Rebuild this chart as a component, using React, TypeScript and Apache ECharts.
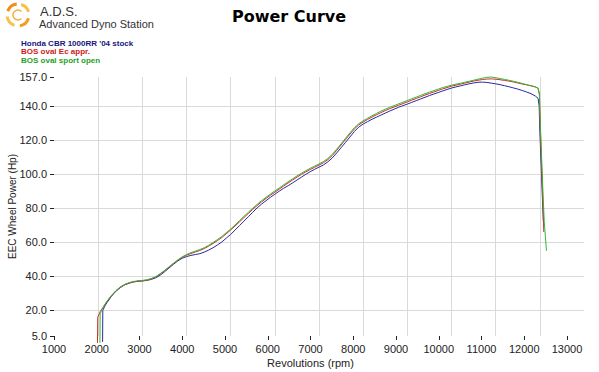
import React, { useEffect, useRef } from "react";
import * as echarts from "echarts";

const chartTitle = "Power Curve";
const brandTitle = "A.D.S.";
const brandSubtitle = "Advanced Dyno Station";
const seriesNames = ["Honda CBR 1000RR '04 stock", "BOS oval Ec appr.", "BOS oval sport open"];
const lineColors = ["#2a2aa0", "#d42a2a", "#33b833"];
const legendColors = ["#16167e", "#d01818", "#1f9f1f"];
const xName = "Revolutions (rpm)";
const yName = "EEC Wheel Power (Hp)";
const yTickValues = [5, 20, 40, 60, 80, 100, 120, 140, 157];
const yGridValues = [20, 40, 60, 80, 100, 120, 140];

const stock: number[][] = [
  [2100, 1.5], [2105, 20], [2150, 22.5], [2200, 24.6], [2300, 28.3], [2400, 31.2], [2500, 33.4],
  [2600, 35], [2700, 36], [2800, 36.7], [2900, 37.1], [3000, 37.3], [3100, 37.6], [3200, 38.2],
  [3300, 39.1], [3400, 40.6], [3500, 42.6], [3600, 44.8], [3700, 47], [3800, 49], [3900, 50.6],
  [4000, 51.6], [4100, 52.3], [4200, 52.8], [4300, 53.3], [4400, 54.2], [4500, 55.4], [4600, 56.8],
  [4700, 58.4], [4800, 60.2], [4900, 62.4], [5000, 64.6], [5100, 67.2], [5200, 69.8], [5300, 72.4],
  [5400, 75], [5500, 77.6], [5600, 80.2], [5700, 82.4], [5800, 84.4], [5900, 86.4], [6000, 88.2],
  [6100, 90], [6200, 91.7], [6300, 93.2], [6400, 94.8], [6500, 96.5], [6600, 98.2], [6700, 99.9],
  [6800, 101.4], [6900, 102.8], [7000, 104.1], [7100, 105.4], [7200, 107.2], [7300, 109.5],
  [7400, 112.4], [7500, 115.5], [7600, 118.6], [7700, 121.8], [7800, 125], [7900, 127.6],
  [8000, 129.4], [8100, 130.8], [8200, 132.2], [8300, 133.4], [8400, 134.6], [8500, 135.8],
  [8600, 137], [8700, 138.1], [8800, 139.2], [8900, 140.2], [9000, 141.1], [9100, 142.1],
  [9200, 143.1], [9300, 144.1], [9400, 145.1], [9500, 146.1], [9600, 147], [9700, 147.9],
  [9800, 148.8], [9900, 149.7], [10000, 150.5], [10100, 151.2], [10200, 151.8], [10300, 152.4],
  [10400, 153], [10500, 153.5], [10600, 153.9], [10700, 154], [10800, 153.8], [10900, 153.4],
  [11000, 153], [11100, 152.5], [11200, 151.9], [11300, 151.3], [11400, 150.6], [11500, 149.9],
  [11600, 149.1], [11700, 148.2], [11800, 147.2], [11900, 145.8], [11960, 144.5], [11985, 140],
  [12000, 125], [12030, 105], [12060, 85], [12080, 72],
];

const ecAppr: number[][] = [
  [1985, 1], [1990, 16], [2050, 19.5], [2100, 21.3], [2200, 25.3], [2300, 28.6], [2400, 31.4],
  [2500, 33.6], [2600, 35.1], [2700, 36.1], [2800, 36.8], [2900, 37.2], [3000, 37.4], [3100, 37.8],
  [3200, 38.5], [3300, 39.6], [3400, 41.3], [3500, 43.2], [3600, 45.3], [3700, 47.4], [3800, 49.4],
  [3900, 51.1], [4000, 52.4], [4100, 53.4], [4200, 54.3], [4300, 55.2], [4400, 56.3], [4500, 57.7],
  [4600, 59.3], [4700, 61], [4800, 62.8], [4900, 65], [5000, 67.2], [5100, 69.6], [5200, 72],
  [5300, 74.5], [5400, 76.9], [5500, 79.3], [5600, 81.6], [5700, 83.7], [5800, 85.7], [5900, 87.6],
  [6000, 89.4], [6100, 91.2], [6200, 93], [6300, 94.8], [6400, 96.5], [6500, 98.2], [6600, 99.8],
  [6700, 101.3], [6800, 102.7], [6900, 104], [7000, 105.3], [7100, 106.7], [7200, 108.5],
  [7300, 110.9], [7400, 113.9], [7500, 117.1], [7600, 120.3], [7700, 123.5], [7800, 126.5],
  [7900, 128.9], [8000, 130.6], [8100, 132.1], [8200, 133.5], [8300, 134.8], [8400, 136.1],
  [8500, 137.3], [8600, 138.4], [8700, 139.4], [8800, 140.4], [8900, 141.4], [9000, 142.4],
  [9100, 143.4], [9200, 144.4], [9300, 145.4], [9400, 146.4], [9500, 147.3], [9600, 148.2],
  [9700, 149.1], [9800, 150], [9900, 150.8], [10000, 151.6], [10100, 152.2], [10200, 152.8],
  [10300, 153.4], [10400, 154], [10500, 154.6], [10600, 155.1], [10700, 155.5], [10800, 155.8],
  [10900, 155.9], [11000, 155.7], [11100, 155.4], [11200, 155], [11300, 154.6], [11400, 154.1],
  [11500, 153.5], [11600, 152.9], [11700, 152.4], [11800, 151.9], [11900, 151.2], [11960, 150.4],
  [11990, 147], [12010, 128], [12040, 105], [12070, 82], [12090, 66],
];

const sportOpen: number[][] = [
  [2040, 1], [2045, 18], [2100, 21.5], [2200, 25.5], [2300, 28.8], [2400, 31.6], [2500, 33.8],
  [2600, 35.3], [2700, 36.3], [2800, 37], [2900, 37.4], [3000, 37.6], [3100, 38], [3200, 38.7],
  [3300, 39.8], [3400, 41.5], [3500, 43.4], [3600, 45.5], [3700, 47.6], [3800, 49.6], [3900, 51.4],
  [4000, 52.8], [4100, 53.9], [4200, 54.8], [4300, 55.7], [4400, 56.8], [4500, 58.2], [4600, 59.8],
  [4700, 61.6], [4800, 63.4], [4900, 65.6], [5000, 67.8], [5100, 70.2], [5200, 72.7], [5300, 75.2],
  [5400, 77.6], [5500, 80], [5600, 82.3], [5700, 84.4], [5800, 86.4], [5900, 88.3], [6000, 90.1],
  [6100, 91.9], [6200, 93.7], [6300, 95.5], [6400, 97.2], [6500, 98.9], [6600, 100.5], [6700, 102],
  [6800, 103.4], [6900, 104.7], [7000, 106], [7100, 107.4], [7200, 109.2], [7300, 111.6],
  [7400, 114.6], [7500, 117.8], [7600, 121], [7700, 124.2], [7800, 127.2], [7900, 129.6],
  [8000, 131.3], [8100, 132.8], [8200, 134.2], [8300, 135.6], [8400, 136.9], [8500, 138.1],
  [8600, 139.2], [8700, 140.2], [8800, 141.2], [8900, 142.2], [9000, 143.2], [9100, 144.2],
  [9200, 145.2], [9300, 146.2], [9400, 147.2], [9500, 148.1], [9600, 149], [9700, 149.9],
  [9800, 150.8], [9900, 151.5], [10000, 152.2], [10100, 152.8], [10200, 153.3], [10300, 153.9],
  [10400, 154.5], [10500, 155.1], [10600, 155.7], [10700, 156.3], [10800, 156.8], [10900, 157],
  [11000, 156.6], [11100, 156.1], [11200, 155.6], [11300, 155.1], [11400, 154.5], [11500, 153.9],
  [11600, 153.2], [11700, 152.5], [11800, 151.8], [11900, 151.1], [11960, 150.5], [11990, 147],
  [12010, 130], [12040, 110], [12070, 90], [12100, 72], [12130, 62], [12150, 55],
];

const allSeries = [stock, ecAppr, sportOpen];

export default function App() {
  const ref = useRef<HTMLDivElement>(null);
  useEffect(() => {
    document.body.style.margin = "0";
    if (!ref.current) return;
    const chart = echarts.init(ref.current, undefined, { renderer: "svg" });
    const font = "Liberation Sans, Arial, sans-serif";
    const lineSeries: any[] = allSeries.map((d, i) => ({
      type: "line",
      name: seriesNames[i],
      data: d,
      xAxisIndex: 0,
      yAxisIndex: 0,
      showSymbol: false,
      symbol: "none",
      clip: false,
      z: 3 + i,
      lineStyle: { color: lineColors[i], width: 1 },
    }));
    lineSeries.push({
      type: "line",
      data: [],
      xAxisIndex: 0,
      yAxisIndex: 0,
      z: 1,
      markLine: {
        silent: true,
        z: 1,
        symbol: ["none", "none"],
        label: { show: false },
        lineStyle: { color: "#d9d9d9", type: "solid", width: 1 },
        data: yGridValues.map((v) => ({ yAxis: v })),
      },
    });
    const legendGraphics = seriesNames.map((n, i) => ({
      type: "text",
      left: 21,
      top: 39.5 + i * 8.3,
      style: { text: n, fill: legendColors[i], font: `bold 8px ${font}`, lineHeight: 8 },
    }));
    chart.setOption({
      animation: false,
      backgroundColor: "#ffffff",
      grid: [
        { left: 54, right: 15, top: 77, bottom: 36, containLabel: false, outerBoundsMode: "none" },
        { left: 54, right: 32, top: 77, bottom: 36, containLabel: false, outerBoundsMode: "none" },
      ],
      xAxis: [
        {
          gridIndex: 0,
          type: "value",
          min: 1000,
          max: 13000,
          interval: 1000,
          axisLine: { show: false },
          axisTick: { show: false },
          axisLabel: { show: false },
          splitLine: {
            show: true,
            showMinLine: false,
            showMaxLine: false,
            lineStyle: { color: "#d9d9d9", width: 1 },
          },
        },
        {
          gridIndex: 1,
          type: "value",
          min: 1000,
          max: 13000,
          interval: 1000,
          axisLine: { show: false },
          axisTick: { show: true, length: 4, lineStyle: { color: "#222" } },
          axisLabel: {
            margin: 7,
            fontSize: 11,
            lineHeight: 11,
            color: "#222",
            fontFamily: font,
            formatter: (v: number) => String(v),
          },
          splitLine: { show: false },
          name: xName,
          nameLocation: "middle",
          nameGap: 21,
          nameMoveOverlap: false,
          nameTextStyle: { fontSize: 11, color: "#222", fontFamily: font },
        },
      ],
      yAxis: [
        {
          gridIndex: 0,
          type: "value",
          min: 5,
          max: 157,
          axisLine: { show: false },
          axisTick: { show: true, length: 4, customValues: yTickValues, lineStyle: { color: "#222" } },
          axisLabel: {
            customValues: yTickValues,
            formatter: (v: number) => v.toFixed(1),
            margin: 7,
            fontSize: 11,
            lineHeight: 8,
            color: "#222",
            fontFamily: font,
          },
          splitLine: { show: false },
          name: yName,
          nameLocation: "middle",
          nameGap: 37,
          nameMoveOverlap: false,
          nameRotate: 90,
          nameTextStyle: { fontSize: 10, color: "#222", fontFamily: font },
        },
        { gridIndex: 1, type: "value", min: 5, max: 157, show: false },
      ],
      graphic: [
        { type: "arc", shape: { cx: 18, cy: 15, r: 11, startAngle: 0.3, endAngle: 1.4 }, style: { stroke: "#f0a020", lineWidth: 3, fill: "none" } },
        { type: "arc", shape: { cx: 18, cy: 15, r: 11, startAngle: 1.9, endAngle: 3.0 }, style: { stroke: "#f6c24a", lineWidth: 3, fill: "none" } },
        { type: "arc", shape: { cx: 18, cy: 15, r: 11, startAngle: 3.5, endAngle: 4.6 }, style: { stroke: "#ee9018", lineWidth: 3, fill: "none" } },
        { type: "arc", shape: { cx: 18, cy: 15, r: 11, startAngle: 5.0, endAngle: 6.0 }, style: { stroke: "#f6c24a", lineWidth: 3, fill: "none" } },
        { type: "arc", shape: { cx: 18, cy: 15, r: 5, startAngle: 0.8, endAngle: 5.5 }, style: { stroke: "#f2b040", lineWidth: 1.5, fill: "none" } },
        { type: "text", left: 40, top: 5, style: { text: brandTitle, fill: "#333", font: `13px ${font}` } },
        { type: "text", left: 39, top: 18, style: { text: brandSubtitle, fill: "#333", font: `11px ${font}` } },
        { type: "text", left: 232, top: 8, style: { text: chartTitle, fill: "#000", font: `bold 16px DejaVu Sans, sans-serif` } },
        ...legendGraphics,
      ],
      series: lineSeries,
    });
    return () => chart.dispose();
  }, []);
  return <div ref={ref} style={{ width: 599, height: 372 }} />;
}
